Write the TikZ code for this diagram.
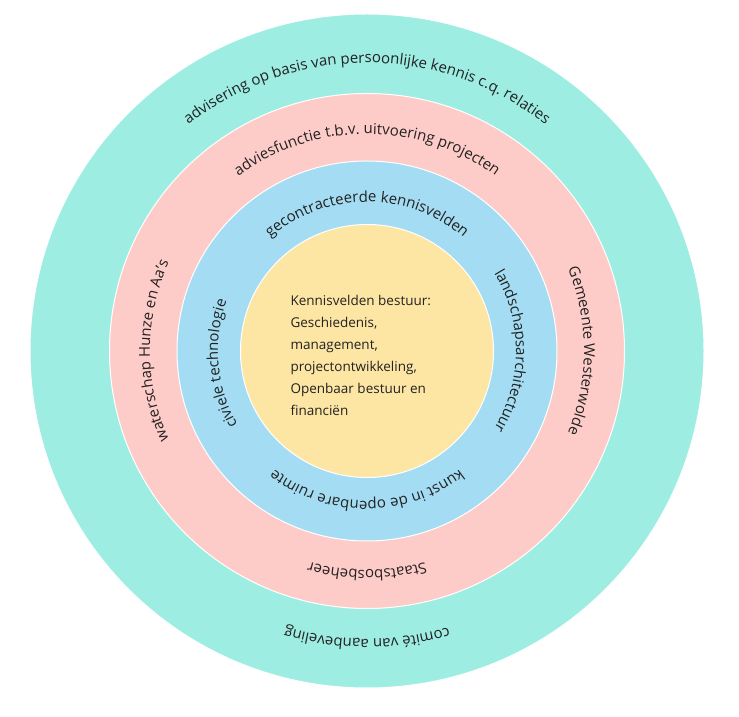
\documentclass[tikz,border=0pt]{standalone}
\usepackage{fontspec}
\setmainfont{Open Sans}
\usetikzlibrary{decorations.text}
\definecolor{cteal}{HTML}{9DEDE3}
\definecolor{cpink}{HTML}{FECCC8}
\definecolor{cblue}{HTML}{A4DDF3}
\definecolor{cyel}{HTML}{FDE6A4}
\definecolor{ctxt}{HTML}{222222}
\newcommand{\arcfont}{\fontsize{15}{18}\selectfont}
\tikzset{
  ring/.style={draw=white, line width=1pt},
  arctext/.style={decorate, decoration={text along path, text align=center,
     text color=ctxt, text={|\arcfont|#1}}},
}
\begin{document}
\begin{tikzpicture}[x=1pt,y=1pt, font=\fontsize{13.5}{16}\selectfont]
\useasboundingbox (0,0) rectangle (739,717);
\coordinate (c) at (367,366);
\node[circle, ring, fill=cteal, minimum size=674pt, inner sep=0] (outer) at (c) {};
\node[circle, ring, fill=cpink, minimum size=515pt, inner sep=0] (pink) at (c) {};
\node[circle, ring, fill=cblue, minimum size=380pt, inner sep=0] (blue) at (c) {};
\node[circle, ring, fill=cyel, minimum size=253pt, inner sep=0] (yel) at (c) {};
% outer ring texts
\path[arctext={advisering op basis van persoonlijke kennis c.q. relaties}] (c) ++(170:288) arc[start angle=170, end angle=10, radius=288];
\path[arctext={comité van aanbeveling}] (c) ++(350:288) arc[start angle=350, end angle=190, radius=288];
% pink ring
\path[arctext={adviesfunctie t.b.v. uitvoering projecten}] (c) ++(170:217) arc[start angle=170, end angle=10, radius=217];
\path[arctext={Staatsbosbeheer}] (c) ++(350:219) arc[start angle=350, end angle=190, radius=219];
\path[arctext={waterschap Hunze en Aa's}] (c) ++(260:217) arc[start angle=260, end angle=100, radius=217];
\path[arctext={Gemeente Westerwolde}] (c) ++(80:217) arc[start angle=80, end angle=-80, radius=217];
% blue ring
\path[arctext={gecontracteerde kennisvelden}] (c) ++(170:149) arc[start angle=170, end angle=10, radius=149];
\path[arctext={kunst in de openbare ruimte}] (c) ++(350:150) arc[start angle=350, end angle=190, radius=150];
\path[arctext={civiele technologie}] (c) ++(265:149) arc[start angle=265, end angle=105, radius=149];
\path[arctext={landschapsarchitectuur}] (c) ++(80:149) arc[start angle=80, end angle=-80, radius=149];
% centre
\node[anchor=west, align=left, text=ctxt, font=\fontsize{13.5}{22}\selectfont] (core) at (287,362)
  {Kennisvelden bestuur:\\Geschiedenis,\\management,\\projectontwikkeling,\\Openbaar bestuur en\\financiën};
\end{tikzpicture}
\end{document}
